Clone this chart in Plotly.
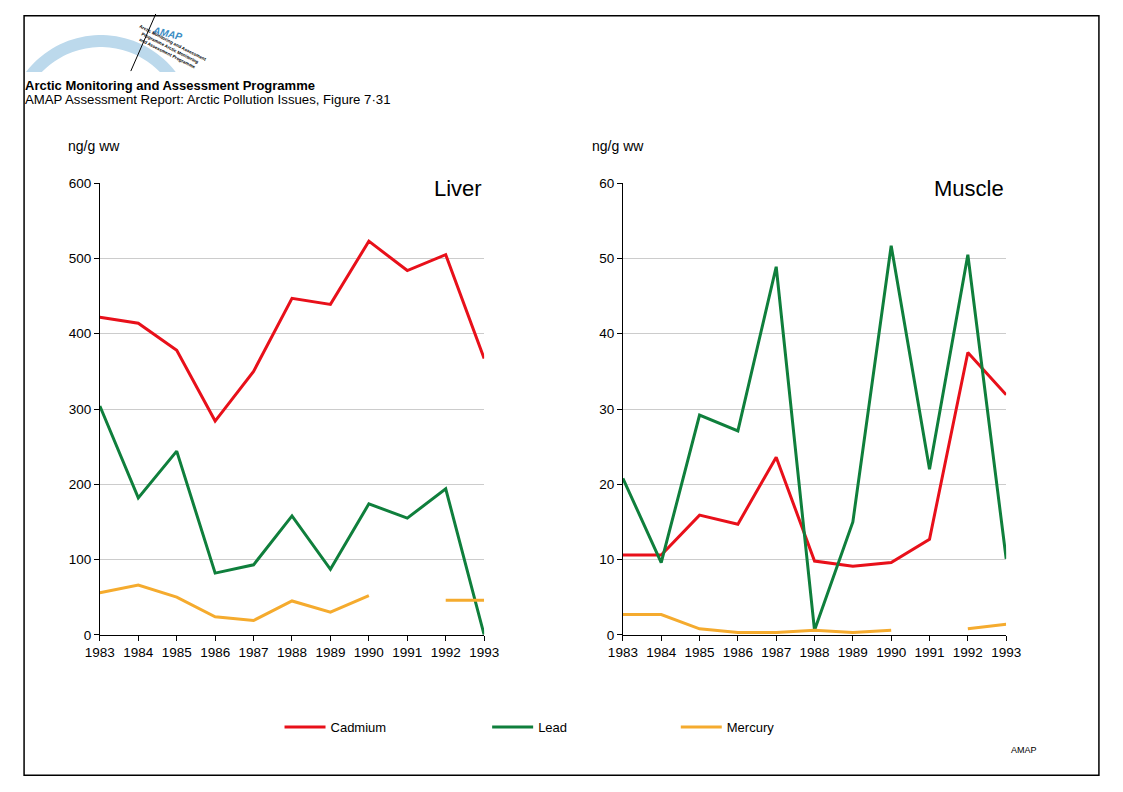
import numpy as np
import plotly.graph_objects as go

# drawing area as it appears on the page (offset and size in px)
OX, OY, FW, FH = 22, 15, 1079, 760

years = [1983, 1984, 1985, 1986, 1987, 1988, 1989, 1990, 1991, 1992, 1993]

# Liver, ng/g ww
liver_cadmium = [422, 414, 378, 284, 350, 447, 439, 523, 484, 505, 367]
liver_lead = [304, 182, 244, 82, 93, 158, 87, 174, 155, 194, 0]
liver_mercury = [56, 66, 50, 24, 19, 45, 30, 52, None, 46, 46]

# Muscle, ng/g ww
muscle_cadmium = [10.6, 10.6, 15.9, 14.7, 23.6, 9.8, 9.1, 9.6, 12.7, 37.5, 31.9]
muscle_lead = [20.8, 9.6, 29.2, 27.1, 48.9, 0.6, 15.0, 51.7, 22.0, 50.5, 10.1]
muscle_mercury = [2.7, 2.7, 0.8, 0.3, 0.3, 0.6, 0.3, 0.6, None, 0.8, 1.4]

metals = ["Cadmium", "Lead", "Mercury"]
colors = {"Cadmium": "#e8101a", "Lead": "#0f7f3c", "Mercury": "#f5ab2e"}

FONT = "Liberation Sans, Arial, sans-serif"


def px(x):
    return (x - OX) / FW


def py(y):
    return 1 - (y - OY) / FH


fig = go.Figure()

liver = {"Cadmium": liver_cadmium, "Lead": liver_lead, "Mercury": liver_mercury}
muscle = {"Cadmium": muscle_cadmium, "Lead": muscle_lead, "Mercury": muscle_mercury}
legend_ids = {"Cadmium": "legend", "Lead": "legend2", "Mercury": "legend3"}

for m in metals:
    fig.add_trace(go.Scatter(x=years, y=liver[m], mode="lines", name=m,
                             line=dict(color=colors[m], width=3),
                             legendgroup=m, legend=legend_ids[m],
                             xaxis="x", yaxis="y", cliponaxis=False))
for m in metals:
    fig.add_trace(go.Scatter(x=years, y=muscle[m], mode="lines", name=m,
                             line=dict(color=colors[m], width=3),
                             legendgroup=m, showlegend=False,
                             xaxis="x2", yaxis="y2", cliponaxis=False))

ydom = [py(634), py(183)]
axis_common = dict(showline=True, linecolor="black", linewidth=1,
                   ticks="outside", ticklen=5, tickcolor="black",
                   tickfont=dict(family=FONT, size=13.5, color="black"),
                   zeroline=False)

fig.update_layout(
    margin=dict(l=0, r=0, t=0, b=0),
    paper_bgcolor="white", plot_bgcolor="white",
    font=dict(family=FONT, color="black"),
    xaxis=dict(domain=[px(99), px(484)], range=[1983, 1993], dtick=1,
               showgrid=False, anchor="y", **axis_common),
    yaxis=dict(domain=ydom, range=[0, 600], dtick=100, showgrid=True,
               gridcolor="#cccccc", anchor="x", **axis_common),
    xaxis2=dict(domain=[px(623), px(1007)], range=[1983, 1993], dtick=1,
                showgrid=False, anchor="y2", **axis_common),
    yaxis2=dict(domain=ydom, range=[0, 60], dtick=10, showgrid=True,
                gridcolor="#cccccc", anchor="x2", **axis_common),
)

legend_x = {"legend": 279, "legend2": 487, "legend3": 676}
for lid, lx in legend_x.items():
    fig.update_layout({lid: dict(x=px(lx), y=py(726), xanchor="left", yanchor="middle",
                                 orientation="h", bgcolor="rgba(0,0,0,0)", itemwidth=41,
                                 font=dict(family=FONT, size=13, color="black"))})

# white boxes behind the panel labels (they cut the top gridline)
fig.add_shape(type="rect", xref="paper", yref="paper", layer="above",
              x0=px(410), x1=px(492), y0=py(200), y1=py(176),
              fillcolor="white", line=dict(width=0))
fig.add_shape(type="rect", xref="paper", yref="paper", layer="above",
              x0=px(905), x1=px(1015), y0=py(200), y1=py(176),
              fillcolor="white", line=dict(width=0))

fig.add_annotation(x=px(484), y=py(188), xref="paper", yref="paper", text="Liver",
                   showarrow=False, xanchor="right", yanchor="middle",
                   font=dict(family=FONT, size=22, color="black"))
fig.add_annotation(x=px(1007), y=py(188), xref="paper", yref="paper", text="Muscle",
                   showarrow=False, xanchor="right", yanchor="middle",
                   font=dict(family=FONT, size=22, color="black"))

for ux in (65, 590):
    fig.add_annotation(x=px(ux), y=py(146), xref="paper", yref="paper", text="ng/g ww",
                       showarrow=False, xanchor="left", yanchor="middle",
                       font=dict(family=FONT, size=14, color="black"))

# header
fig.add_annotation(x=px(22), y=py(85), xref="paper", yref="paper",
                   text="<b>Arctic Monitoring and Assessment Programme</b>",
                   showarrow=False, xanchor="left", yanchor="middle",
                   font=dict(family=FONT, size=13, color="black"))
fig.add_annotation(x=px(22), y=py(99), xref="paper", yref="paper",
                   text="AMAP Assessment Report: Arctic Pollution Issues, Figure 7\u00b731",
                   showarrow=False, xanchor="left", yanchor="middle",
                   font=dict(family=FONT, size=13.2, color="black"))
fig.add_annotation(x=px(1040), y=py(749), xref="paper", yref="paper", text="AMAP",
                   showarrow=False, xanchor="right", yanchor="middle",
                   font=dict(family=FONT, size=9, color="black"))

# logo: light blue arc, slanted line, AMAP text
cx, cy, R, r = 100, 129.5, 94.5, 82.5
t_out = np.linspace(np.pi - np.arcsin(57.5 / R), np.arcsin(57.5 / R), 40)
t_in = np.linspace(np.arcsin(57.5 / r), np.pi - np.arcsin(57.5 / r), 40)
pts = [(cx + R * np.cos(t), cy - R * np.sin(t)) for t in t_out]
pts += [(cx + r * np.cos(t), cy - r * np.sin(t)) for t in t_in]
path = "M " + " L ".join(f"{px(a):.5f},{py(b):.5f}" for a, b in pts) + " Z"
fig.add_shape(type="path", path=path, xref="paper", yref="paper",
              fillcolor="#bcd9ec", line=dict(width=0))
fig.add_shape(type="line", xref="paper", yref="paper",
              x0=px(130), y0=py(71), x1=px(155), y1=py(14),
              line=dict(color="black", width=1))
fig.add_annotation(x=px(167), y=py(33), xref="paper", yref="paper",
                   xanchor="center", yanchor="middle",
                   text="<b><i>AMAP</i></b>", showarrow=False, textangle=14,
                   font=dict(family=FONT, size=10, color="#3a8cc4"))
fig.add_annotation(x=px(170), y=py(48), xref="paper", yref="paper",
                   xanchor="center", yanchor="middle",
                   text="<b>Arctic Monitoring and Assessment<br>Programme Arctic Monitoring<br>and Assessment Programme</b>",
                   showarrow=False, textangle=27,
                   font=dict(family=FONT, size=4.5, color="black"))

# frame round the whole drawing
fig.add_shape(type="rect", xref="paper", yref="paper",
              x0=0.001, x1=0.999, y0=0.001, y1=0.999,
              line=dict(color="black", width=1.5))

fig.write_html("out.html")
